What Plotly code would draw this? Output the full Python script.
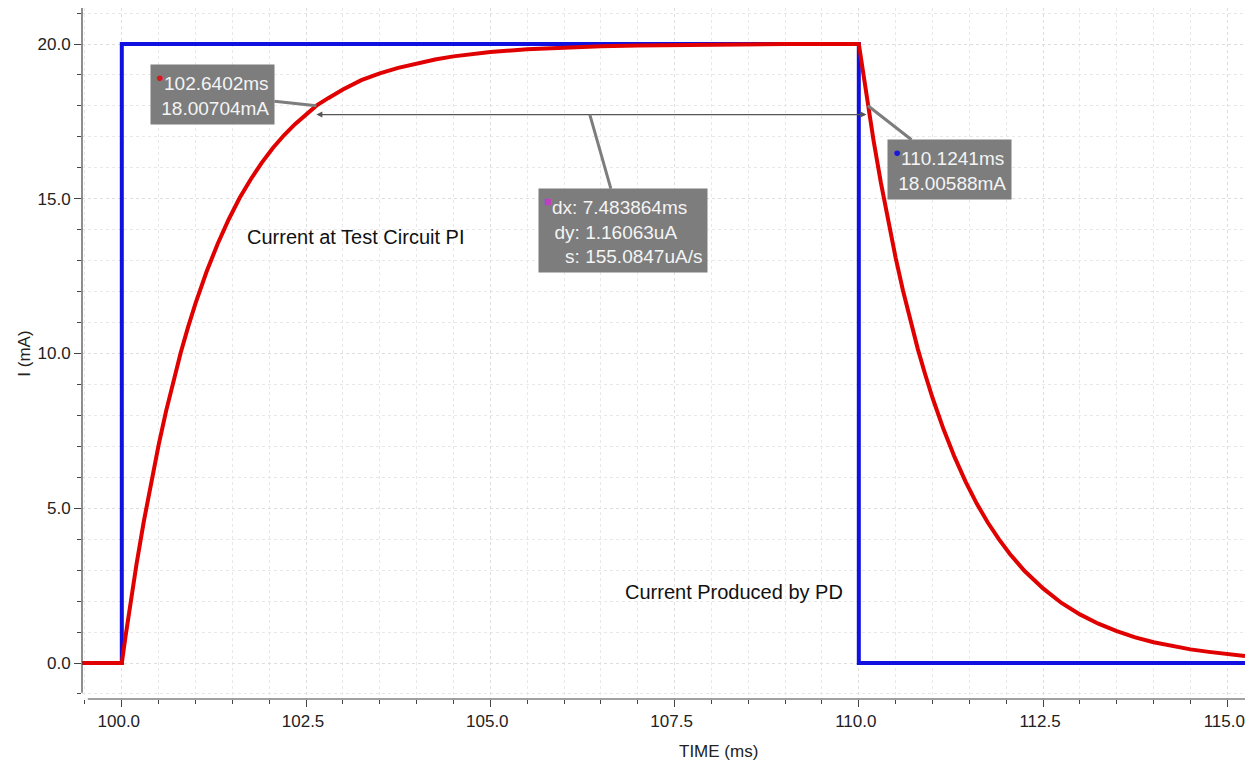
import plotly.graph_objects as go

# ---- data ----
pd_time = [99.46, 100.0, 100.0, 110.0, 110.0, 115.24]
pd_current = [0.0, 0.0, 20.0, 20.0, 0.0, 0.0]

pi_time = [99.46, 100.0, 100.05, 100.1, 100.15, 100.2, 100.3, 100.4, 100.5, 100.6,
           100.7, 100.8, 100.9, 101.0, 101.15, 101.3, 101.45, 101.6, 101.75, 101.9,
           102.05, 102.2, 102.35, 102.5, 102.6402, 102.8, 103.0, 103.25, 103.5, 103.75,
           104.0, 104.25, 104.5, 104.75, 105.0, 105.5, 106.0, 106.5, 107.0, 108.0,
           109.0, 110.0,
           110.05, 110.1241, 110.2, 110.3, 110.4, 110.5, 110.6, 110.7, 110.8, 110.9,
           111.0, 111.15, 111.3, 111.45, 111.6, 111.75, 111.9, 112.05, 112.25, 112.5,
           112.75, 113.0, 113.25, 113.5, 113.75, 114.0, 114.25, 114.5, 114.75, 115.0,
           115.24]
pi_current = [0.0, 0.0, 0.85, 1.67, 2.45, 3.2, 4.59, 5.88, 7.05, 8.13,
              9.12, 10.03, 10.86, 11.62, 12.64, 13.54, 14.33, 15.03, 15.63, 16.17,
              16.64, 17.05, 17.41, 17.73, 18.007, 18.25, 18.53, 18.83, 19.05, 19.23,
              19.38, 19.5, 19.6, 19.68, 19.74, 19.83, 19.89, 19.93, 19.95, 19.98,
              20.0, 20.0,
              19.17, 18.006, 16.88, 15.51, 14.25, 13.09, 12.03, 11.05, 10.15, 9.33,
              8.57, 7.55, 6.65, 5.85, 5.15, 4.54, 4.0, 3.52, 2.97, 2.41,
              1.94, 1.57, 1.27, 1.03, 0.83, 0.67, 0.55, 0.44, 0.36, 0.29,
              0.23]

marker_a = (102.6402, 18.00704)
marker_b = (110.1241, 18.00588)
delta_level = 17.72

x_ticks = [100.0, 102.5, 105.0, 107.5, 110.0, 112.5, 115.0]
y_ticks = [0.0, 5.0, 10.0, 15.0, 20.0]

FONT = "Liberation Sans, Arial, sans-serif"
BOX = "#7d7d7d"
BOXTXT = "#f4f4f4"

fig = go.Figure()
fig.add_trace(go.Scatter(x=pd_time, y=pd_current, mode="lines",
                         line=dict(color="#1010e0", width=4), name="PD",
                         showlegend=False, hoverinfo="skip"))
fig.add_trace(go.Scatter(x=pi_time, y=pi_current, mode="lines",
                         line=dict(color="#e00000", width=4),
                         name="PI", showlegend=False, hoverinfo="skip"))

annotations = []
# delta double arrow
annotations.append(dict(x=marker_a[0], y=delta_level, xref="x", yref="y",
                        ax=marker_b[0], ay=delta_level, axref="x", ayref="y",
                        text="", showarrow=True, arrowhead=2, startarrowhead=2,
                        arrowside="end+start", arrowsize=1, arrowwidth=1.2,
                        arrowcolor="#555555"))
# marker A callout
annotations.append(dict(x=marker_a[0], y=marker_a[1], xref="x", yref="y",
                        ax=-104, ay=-11,
                        text="<sup><span style='color:#d41a1a'>●</span></sup>102.6402ms<br> 18.00704mA",
                        align="left", showarrow=True, arrowhead=0, arrowwidth=3,
                        arrowcolor=BOX, bgcolor=BOX, borderpad=5,
                        font=dict(family=FONT, size=19, color=BOXTXT)))
# marker B callout
annotations.append(dict(x=marker_b[0], y=marker_b[1], xref="x", yref="y",
                        ax=82, ay=64,
                        text="<sup><span style='color:#1a1ad0'>●</span></sup>110.1241ms<br> 18.00588mA",
                        align="left", showarrow=True, arrowhead=0, arrowwidth=3,
                        arrowcolor=BOX, bgcolor=BOX, borderpad=5,
                        font=dict(family=FONT, size=19, color=BOXTXT)))
# delta callout
annotations.append(dict(x=106.35, y=delta_level, xref="x", yref="y",
                        ax=33, ay=116,
                        text="<sup><span style='color:#c040c0'>■</span></sup>dx: 7.483864ms<br>  dy: 1.16063uA<br>    s: 155.0847uA/s",
                        align="left", showarrow=True, arrowhead=0, arrowwidth=3,
                        arrowcolor=BOX, bgcolor=BOX, borderpad=5,
                        font=dict(family=FONT, size=19, color=BOXTXT)))
# curve labels
annotations.append(dict(x=101.67, y=13.75, xref="x", yref="y", text="Current at Test Circuit PI",
                        showarrow=False, xanchor="left", font=dict(family=FONT, size=20, color="#111111")))
annotations.append(dict(x=106.8, y=2.3, xref="x", yref="y", text="Current Produced by PD",
                        showarrow=False, xanchor="left", font=dict(family=FONT, size=20, color="#111111")))
# x axis title (offset to the right in the reference)
annotations.append(dict(x=0.5477, y=-0.0753, xref="paper", yref="paper", text="TIME (ms)",
                        showarrow=False, xanchor="center", yanchor="middle",
                        font=dict(family=FONT, size=17, color="#222222")))

shapes = [
    dict(type="line", xref="paper", yref="paper", x0=0, x1=0, y0=0.009, y1=1,
         line=dict(color="#444444", width=1.2)),
    dict(type="line", xref="paper", yref="paper", x0=0.005, x1=1, y0=0, y1=0,
         line=dict(color="#444444", width=1.2)),
]

fig.update_layout(
    width=1245, height=764,
    margin=dict(l=82, r=0, t=8, b=65, autoexpand=False),
    paper_bgcolor="white", plot_bgcolor="white",
    annotations=annotations, shapes=shapes,
    font=dict(family=FONT, size=16, color="#222222"),
    xaxis=dict(range=[99.46, 115.24], tickvals=x_ticks,
               ticktext=[f"{v:.1f}" for v in x_ticks],
               ticks="outside", ticklen=7, tickcolor="#444444", automargin=False,
               ticklabeloverflow="allow", ticklabelshift=-3,
               showline=False, zeroline=False,
               showgrid=True, gridcolor="#dddddd", griddash="dot", gridwidth=1,
               minor=dict(dtick=0.5, tick0=100, ticks="outside", ticklen=4,
                          tickcolor="#444444", showgrid=True, gridcolor="#e8e8e8",
                          griddash="dot"),
               tickfont=dict(family=FONT, size=17, color="#222222")),
    yaxis=dict(range=[-1.163, 21.163], tickvals=y_ticks,
               ticktext=[f"{v:.1f}" for v in y_ticks],
               ticks="outside", ticklen=7, tickcolor="#444444", automargin=False,
               ticklabeloverflow="allow",
               showline=False, zeroline=False,
               showgrid=True, gridcolor="#dddddd", griddash="dot", gridwidth=1,
               minor=dict(dtick=1, tick0=0, ticks="outside", ticklen=4,
                          tickcolor="#444444", showgrid=True, gridcolor="#e8e8e8",
                          griddash="dot"),
               title=dict(text="I (mA)", standoff=2,
                          font=dict(family=FONT, size=17, color="#222222")),
               tickfont=dict(family=FONT, size=17, color="#222222")),
)

fig.write_html("out.html", config={"displayModeBar": False},
               post_script="document.body.style.margin='0';document.body.style.overflow='hidden';")
